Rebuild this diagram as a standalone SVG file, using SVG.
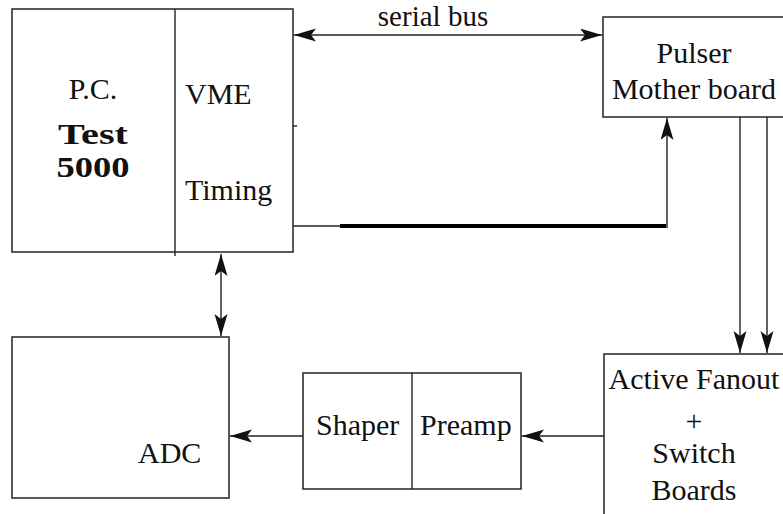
<svg xmlns="http://www.w3.org/2000/svg" width="783" height="514" viewBox="0 0 783 514">
<style>
.box{fill:#fff;stroke:#222;stroke-width:1.5}
.ln{fill:none;stroke:#222;stroke-width:1.4}
.t{font-family:"Liberation Serif","Times New Roman",Times,"DejaVu Serif",serif;font-size:30px;fill:#111}
.c{text-anchor:middle}
.b{font-weight:bold;font-size:30px}
</style>
<defs>
<marker id="ah" markerUnits="userSpaceOnUse" markerWidth="24" markerHeight="14" refX="22" refY="6.5" orient="auto-start-reverse" viewBox="0 0 24 14">
<path d="M0,0 L22,6.5 L0,13 L5,6.5 z" fill="#111"/>
</marker>
</defs>
<rect width="783" height="514" fill="#fff"/>
<g id="pc">
<rect class="box" x="12" y="9" width="281" height="243"/>
<line class="ln" x1="175" y1="9" x2="175" y2="256"/>
<line class="ln" x1="293" y1="126" x2="297" y2="126"/>
<text class="t c" x="93" y="99">P.C.</text>
<text class="t c b" x="93" y="144" textLength="70" lengthAdjust="spacingAndGlyphs">Test</text>
<text class="t c b" x="93" y="177" textLength="73" lengthAdjust="spacingAndGlyphs">5000</text>
<text class="t" x="185" y="104">VME</text>
<text class="t" x="185" y="200">Timing</text>
</g>
<g id="pulser">
<rect class="box" x="603" y="17" width="182" height="100"/>
<text class="t c" x="694" y="63">Pulser</text>
<text class="t c" x="694" y="99">Mother board</text>
</g>
<g id="fanout">
<rect class="box" x="604" y="354" width="185" height="170"/>
<text class="t c" x="694" y="389">Active Fanout</text>
<text class="t c" x="694" y="431">+</text>
<text class="t c" x="694" y="463">Switch</text>
<text class="t c" x="694" y="500">Boards</text>
</g>
<g id="shaper-preamp">
<rect class="box" x="303" y="373" width="218" height="116"/>
<line class="ln" x1="412" y1="373" x2="412" y2="489"/>
<text class="t" x="316" y="435">Shaper</text>
<text class="t" x="420" y="435">Preamp</text>
</g>
<g id="adc">
<rect class="box" x="12" y="337" width="217" height="161"/>
<text class="t" x="138" y="463">ADC</text>
</g>
<g id="connectors">
<line class="ln" x1="294" y1="35" x2="602" y2="35" marker-start="url(#ah)" marker-end="url(#ah)"/>
<text class="t c" x="433" y="26" style="font-size:29px">serial bus</text>
<line class="ln" x1="293" y1="226" x2="341" y2="226"/>
<line x1="340" y1="226" x2="666" y2="226" stroke="#000" stroke-width="4"/>
<path class="ln" d="M667,228 V118" marker-end="url(#ah)"/>
<path class="ln" d="M740,117 V353" marker-end="url(#ah)"/>
<path class="ln" d="M767,117 V353" marker-end="url(#ah)"/>
<path class="ln" d="M604,436 H522" marker-end="url(#ah)"/>
<path class="ln" d="M303,436 H230" marker-end="url(#ah)"/>
<path class="ln" d="M221,254 V336" marker-start="url(#ah)" marker-end="url(#ah)"/>
</g>
</svg>
